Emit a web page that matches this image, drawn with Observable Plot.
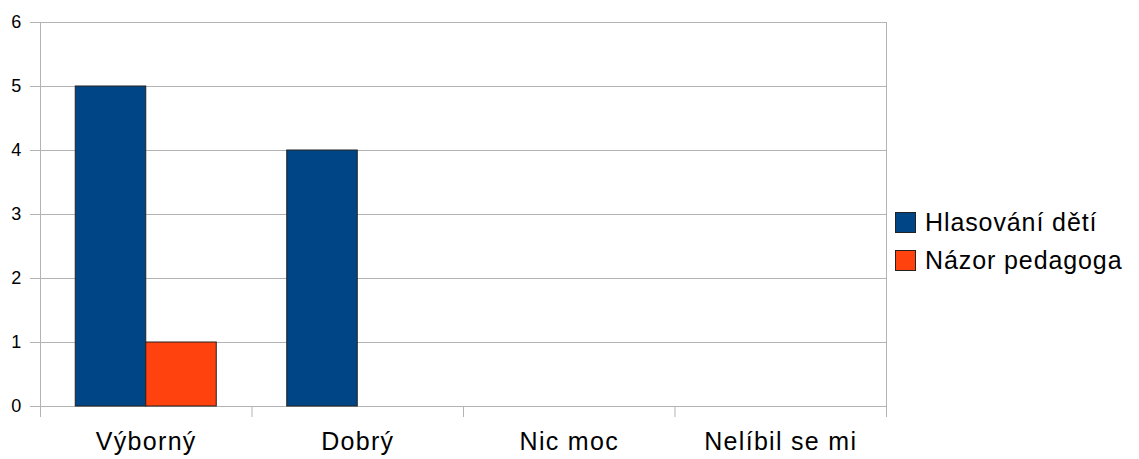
<!DOCTYPE html>
<html>
<head>
<meta charset="utf-8">
<script src="https://cdn.jsdelivr.net/npm/d3@7"></script>
<script src="https://cdn.jsdelivr.net/npm/@observablehq/plot@0.6"></script>
<style>
  html, body { margin: 0; padding: 0; background: #fff; }
  #wrap { position: relative; width: 1139px; height: 459px; font-family: "Liberation Sans", Arial, sans-serif; }
  #chart svg text { letter-spacing: 1.3px; }
  #legend { position: absolute; left: 895px; top: 212px; }
  .row { display: flex; align-items: center; height: 21px; margin-bottom: 17px; }
  .sw { width: 21px; height: 21px; box-sizing: border-box; border: 1px solid #222; margin-right: 9px; }
  .lab { font-size: 25px; letter-spacing: 0.9px; color: #000; line-height: 21px; }
</style>
</head>
<body>
<div id="wrap">
  <div id="chart"></div>
  <div id="legend"></div>
</div>
<script>
const categories = ["Výborný", "Dobrý", "Nic moc", "Nelíbil se mi"];
const series = ["Hlasování dětí", "Názor pedagoga"];
const hlasovaniDeti = [5, 4, 0, 0];
const nazorPedagoga = [1, 0, 0, 0];
const yTicks = [0, 1, 2, 3, 4, 5, 6];
const colors = ["#004586", "#ff420e"];

const seriesValues = [hlasovaniDeti, nazorPedagoga];
const rows = categories.flatMap((c, ci) =>
  series.map((s, sj) => ({category: c, ci, series: s, sj, value: seriesValues[sj][ci]}))
);
const boundaries = d3.range(categories.length + 1);
const centers = categories.map((c, i) => i + 0.5);

const chart = Plot.plot({
  width: 887,
  height: 459,
  marginLeft: 40,
  marginRight: 1,
  marginTop: 22,
  marginBottom: 53,
  style: {fontFamily: "'Liberation Sans', Arial, sans-serif", color: "#000", background: "#fff"},
  x: {domain: [0, categories.length], axis: null},
  y: {domain: [0, 6], axis: null},
  color: {domain: series, range: colors},
  marks: [
    Plot.ruleY(yTicks, {stroke: "#b3b3b3", insetLeft: -10}),
    Plot.ruleX([boundaries[0], boundaries[boundaries.length - 1]], {stroke: "#b3b3b3", insetBottom: -11}),
    Plot.ruleX(boundaries.slice(1, -1), {y1: 0, y2: 0, stroke: "#b3b3b3", insetBottom: -11}),
    Plot.axisY({ticks: yTicks, tickSize: 0, tickPadding: 18, fontSize: 18, anchor: "left",
      label: null, tickFormat: d => String(d)}),
    Plot.axisX({ticks: centers, tickSize: 0, tickPadding: 26, fontSize: 25, anchor: "bottom",
      label: null, tickFormat: d => categories[Math.floor(d)]}),
    Plot.rectY(rows.filter(d => d.value > 0), {
      x1: d => d.ci + 1 / 6 + d.sj / 3,
      x2: d => d.ci + 1 / 6 + (d.sj + 1) / 3,
      y: "value",
      fill: "series",
      stroke: "#222",
      strokeWidth: 1
    })
  ]
});
document.getElementById("chart").appendChild(chart);

const legend = document.getElementById("legend");
series.forEach((s, i) => {
  const row = document.createElement("div");
  row.className = "row";
  const sw = document.createElement("div");
  sw.className = "sw";
  sw.style.background = colors[i];
  const lab = document.createElement("div");
  lab.className = "lab";
  lab.textContent = s;
  row.appendChild(sw);
  row.appendChild(lab);
  legend.appendChild(row);
});
</script>
</body>
</html>
